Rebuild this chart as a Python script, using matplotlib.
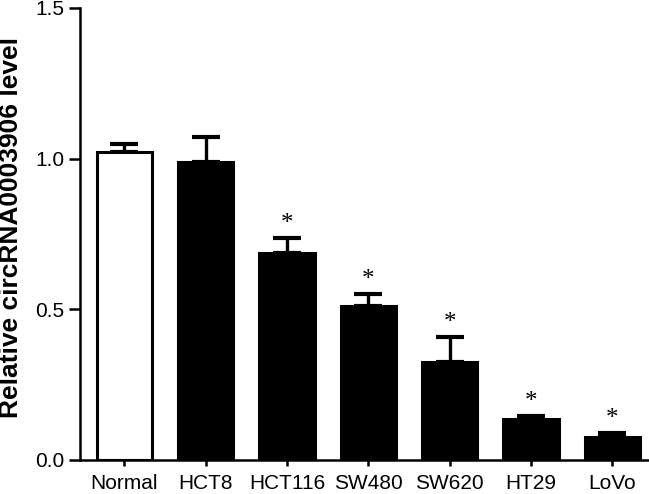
import matplotlib
matplotlib.use('Agg')
import matplotlib.pyplot as plt

# datos
lineas = ['Normal', 'HCT8', 'HCT116', 'SW480', 'SW620', 'HT29', 'LoVo']
nivel = [1.023, 0.99, 0.686, 0.511, 0.326, 0.135, 0.075]
error = [0.027, 0.083, 0.051, 0.039, 0.081, 0.011, 0.015]
signif = [False, False, True, True, True, True, True]

plt.rcParams['font.family'] = ['Liberation Sans', 'DejaVu Sans']

fig = plt.figure(figsize=(6.49, 4.94), dpi=100)
ax = fig.add_axes([0.123, 0.069, 0.877, 0.915])

x = list(range(len(lineas)))
colores = ['white'] + ['black'] * (len(lineas) - 1)
ax.bar(x, nivel, width=0.68, color=colores, edgecolor='black', linewidth=2.2, zorder=2)
ax.errorbar(x, nivel, yerr=[[0] * len(error), error], fmt='none', ecolor='black',
            elinewidth=2.4, capsize=10, capthick=3, zorder=1)

# asteriscos de significancia
for i in x:
    if signif[i]:
        ax.annotate('*', (i, nivel[i] + error[i]), xytext=(0, 2), textcoords='offset points',
                    ha='center', va='bottom', fontsize=18, family='Liberation Serif')

ax.set_xlim(-0.547, 6.45)
ax.set_ylim(0, 1.5)
ax.set_yticks([0, 0.5, 1.0, 1.5])
ax.set_yticklabels(['0.0', '0.5', '1.0', '1.5'])
ax.set_xticks(x)
ax.set_xticklabels(lineas)
ax.tick_params(axis='both', width=1.8, labelsize=15)
ax.tick_params(axis='x', length=4, pad=6)
ax.tick_params(axis='y', length=8, pad=3)
ax.spines['top'].set_visible(False)
ax.spines['right'].set_visible(False)
ax.spines['left'].set_linewidth(1.8)
ax.spines['bottom'].set_linewidth(1.8)
ax.set_ylabel('Relative circRNA0003906 level', fontsize=19, fontweight='bold')
ax.yaxis.set_label_coords(-0.1, 0.515)

plt.savefig('out.png', dpi=100)
